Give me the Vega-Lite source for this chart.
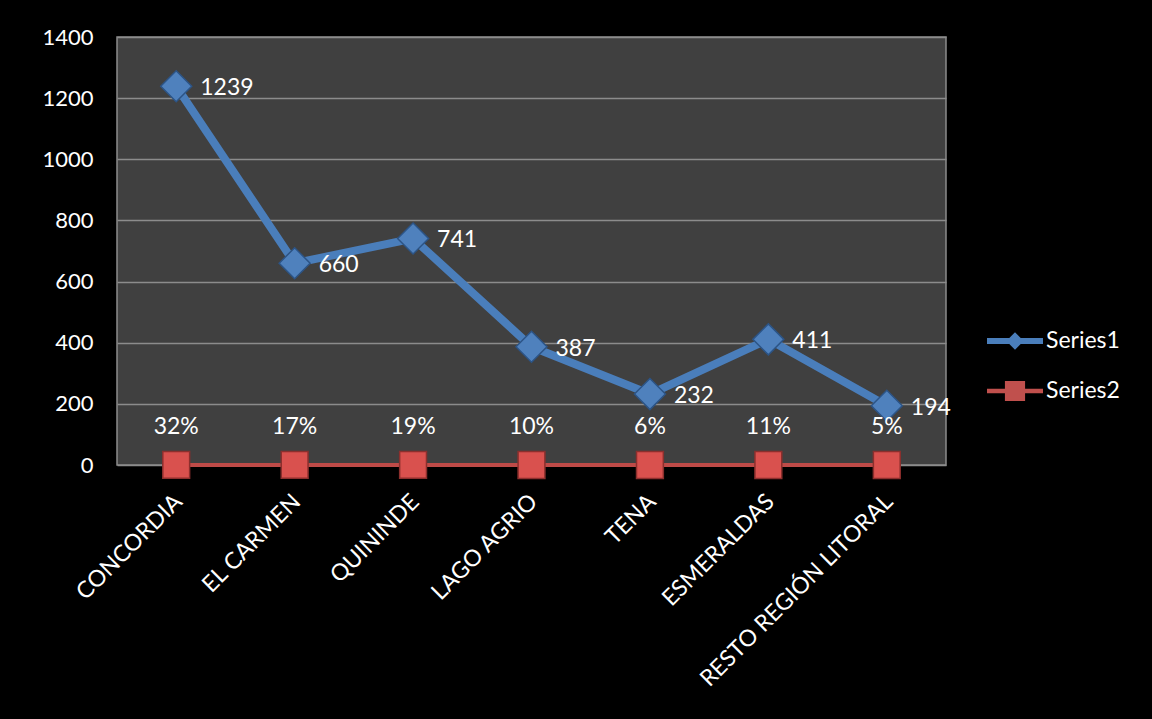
{
  "$schema": "https://vega.github.io/schema/vega-lite/v6.json",
  "width": 829,
  "height": 428,
  "autosize": {"type": "none"},
  "padding": {"left": 117, "top": 37, "right": 206, "bottom": 254},
  "background": "#000000",
  "config": {
    "view": {"fill": "#404040", "stroke": "#8c8c8c", "strokeWidth": 1.5},
    "font": "Lato",
    "axis": {"labelColor": "#ffffff", "labelFontSize": 22, "labelFont": "Lato", "ticks": false, "domain": false, "title": null}
  },
  "data": {
    "values": [
      {"cat": "CONCORDIA", "series": "Series1", "value": 1239, "label": "1239"},
      {"cat": "EL CARMEN", "series": "Series1", "value": 660, "label": "660"},
      {"cat": "QUININDE", "series": "Series1", "value": 741, "label": "741"},
      {"cat": "LAGO AGRIO", "series": "Series1", "value": 387, "label": "387"},
      {"cat": "TENA", "series": "Series1", "value": 232, "label": "232"},
      {"cat": "ESMERALDAS", "series": "Series1", "value": 411, "label": "411"},
      {"cat": "RESTO REGIÓN LITORAL", "series": "Series1", "value": 194, "label": "194"},
      {"cat": "CONCORDIA", "series": "Series2", "value": 0.32, "label": "32%"},
      {"cat": "EL CARMEN", "series": "Series2", "value": 0.17, "label": "17%"},
      {"cat": "QUININDE", "series": "Series2", "value": 0.19, "label": "19%"},
      {"cat": "LAGO AGRIO", "series": "Series2", "value": 0.10, "label": "10%"},
      {"cat": "TENA", "series": "Series2", "value": 0.06, "label": "6%"},
      {"cat": "ESMERALDAS", "series": "Series2", "value": 0.11, "label": "11%"},
      {"cat": "RESTO REGIÓN LITORAL", "series": "Series2", "value": 0.05, "label": "5%"}
    ]
  },
  "encoding": {
    "x": {
      "field": "cat", "type": "nominal", "sort": null,
      "scale": {"paddingInner": 0, "paddingOuter": 0},
      "axis": {"labelAngle": -45, "labelPadding": 25, "labelOffset": -6, "labelLimit": 0, "labelFontSize": 23, "labelColor": "#ffffff", "grid": false}
    },
    "y": {
      "field": "value", "type": "quantitative",
      "scale": {"domain": [0, 1400], "nice": false},
      "axis": {"values": [0, 200, 400, 600, 800, 1000, 1200, 1400], "format": "d", "labelFontSize": 22, "labelColor": "#ffffff", "labelPadding": 24, "grid": true, "gridColor": "#8c8c8c", "gridWidth": 1.5}
    }
  },
  "layer": [
    {
      "transform": [{"filter": "datum.series == 'Series2'"}],
      "mark": {"type": "line", "color": "#be4b48", "strokeWidth": 4},
      "encoding": {}
    },
    {
      "transform": [{"filter": "datum.series == 'Series1'"}],
      "mark": {"type": "line", "color": "#4a7ebb", "strokeWidth": 8},
      "encoding": {}
    },
    {
      "transform": [{"filter": "datum.series == 'Series1'"}],
      "mark": {"type": "point", "shape": "diamond", "filled": true, "size": 960, "fill": "#4f81bd", "stroke": "#2c5486", "strokeWidth": 1.5, "opacity": 1}
    },
    {
      "transform": [{"filter": "datum.series == 'Series2'"}],
      "mark": {"type": "point", "shape": "square", "filled": true, "size": 720, "fill": "#d9514e", "stroke": "#8c2f2d", "strokeWidth": 1.5, "opacity": 1}
    },
    {
      "transform": [{"filter": "datum.series == 'Series1'"}],
      "mark": {"type": "text", "align": "left", "baseline": "middle", "dx": 24, "dy": 2, "fontSize": 23, "color": "#ffffff", "font": "Lato"},
      "encoding": {"text": {"field": "label"}}
    },
    {
      "transform": [{"filter": "datum.series == 'Series2'"}],
      "mark": {"type": "text", "align": "center", "baseline": "middle", "dy": -38, "fontSize": 23, "color": "#ffffff", "font": "Lato"},
      "encoding": {"text": {"field": "label"}}
    },
    {
      "mark": {"type": "point", "filled": true, "opacity": 0},
      "encoding": {
        "color": {"field": "series", "type": "nominal",
          "scale": {"domain": ["Series1", "Series2"], "range": ["#4a7ebb", "#c0504d"]},
          "legend": {
          "title": null, "orient": "none", "legendX": 869, "legendY": 275,
          "labelColor": "#ffffff", "labelFontSize": 23, "labelFont": "Lato",
          "symbolSize": 3136, "labelOffset": 2, "rowPadding": 9, "symbolOpacity": 1,
          "encode": {"symbols": {"update": {"opacity": {"value": 1}, "fillOpacity": {"value": 1}}}}
        }},
        "shape": {"field": "series", "type": "nominal", "scale": {"domain": ["Series1", "Series2"], "range": [
          "M-1,-0.11L1,-0.11L1,0.11L-1,0.11Z M0,-0.31L0.31,0L0,0.31L-0.31,0Z",
          "M-1,-0.08L1,-0.08L1,0.08L-1,0.08Z M-0.36,-0.36L0.36,-0.36L0.36,0.36L-0.36,0.36Z"
        ]}}
      }
    }
  ]
}
